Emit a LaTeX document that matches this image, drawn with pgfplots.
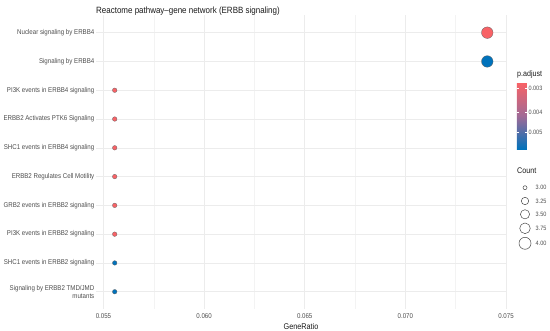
\documentclass[border=0pt]{standalone}
\usepackage{fontspec}
\setmainfont{Liberation Sans}[FakeStretch=0.88]
\usepackage{pgfplots}
\pgfplotsset{compat=1.18}
\usepackage{pgfplotstable}

\definecolor{gridc}{RGB}{236,236,236}
\definecolor{gridm}{RGB}{243,243,243}
\definecolor{txt}{RGB}{77,77,77}
\definecolor{ttl}{RGB}{26,26,26}

% x = GeneRatio, y = row (1 = bottom), count, p.adjust
\pgfplotstableread{
x y count p
0.05556 1 3 0.006113
0.05556 2 3 0.006113
0.05556 3 3 0.002821
0.05556 4 3 0.002821
0.05556 5 3 0.002821
0.05556 6 3 0.002821
0.05556 7 3 0.002821
0.05556 8 3 0.002821
0.07407 9 4 0.006113
0.07407 10 4 0.002821
}\erbbdata

\begin{document}
\begin{tikzpicture}
\useasboundingbox (0,0) rectangle (550bp,331bp);
\begin{axis}[
  at={(96bp,22bp)}, anchor=south west,
  scale only axis, width=410bp, height=293.6bp,
  xmin=0.05463, xmax=0.07500, ymin=0.4, ymax=10.6,
  scaled x ticks=false,
  axis line style={draw=none},
  major tick style={draw=none}, minor tick style={draw=none},
  xtick={0.055,0.06,0.065,0.07,0.075},
  xticklabels={0.055,0.060,0.065,0.070,0.075},
  minor xtick={0.0575,0.0625,0.0675,0.0725},
  ytick={1,2,3,4,5,6,7,8,9,10},
  yticklabels={{Signaling by ERBB2 TMD/JMD\\mutants},
    SHC1 events in ERBB2 signaling,
    PI3K events in ERBB2 signaling,
    GRB2 events in ERBB2 signaling,
    ERBB2 Regulates Cell Motility,
    SHC1 events in ERBB4 signaling,
    ERBB2 Activates PTK6 Signaling,
    PI3K events in ERBB4 signaling,
    Signaling by ERBB4,
    Nuclear signaling by ERBB4},
  grid=both,
  major grid style={gridc, line width=0.55bp},
  minor grid style={gridm, line width=0.4bp},
  ticklabel style={font=\fontsize{7}{7.7}\selectfont, text=txt},
  yticklabel style={align=right, inner sep=1.5bp},
  xticklabel style={inner sep=1bp, yshift=-3bp},
  xlabel={GeneRatio},
  xlabel style={font=\fontsize{8.3}{9}\selectfont, text=ttl, inner sep=0pt, yshift=-4bp},
  title={Reactome pathway–gene network (ERBB signaling)},
  title style={at={(0,1)}, anchor=south west, inner sep=0pt, yshift=-6.5bp,
    font=\fontsize{9.1}{10}\selectfont, text=ttl},
  colormap={pv}{rgb255(0cm)=(248,98,102); rgb255(1cm)=(160,106,150); rgb255(2cm)=(0,114,187)},
  point meta min=-5.8707, point meta max=-5.0974,
  colorbar,
  colorbar style={
    scale only axis, width=10bp, height=66.6bp,
    at={(parent axis.north east)}, anchor=north west,
    xshift=2.3bp, yshift=-67.3bp,
    y dir=reverse,
    ytick={-5.80914,-5.52146,-5.29832},
    yticklabels={0.003,0.004,0.005},
    yticklabel style={font=\fontsize{6.3}{7}\selectfont, text=txt, inner sep=1.5bp},
    ytick pos=both, yticklabel pos=right, tick align=inside,
    major tick style={draw=white, line width=0.6bp},
    major tick length=2bp,
    axis line style={draw=none},
    axis on top,
  },
]
\addplot[scatter, only marks, mark=*,
  point meta={ln(\thisrow{p})},
  scatter/use mapped color={draw=black!60, fill=mapped color},
  visualization depends on={2.3+(\thisrow{count}-3)*3.5 \as \psize},
  scatter/@pre marker code/.append style={/tikz/mark size=\psize},
  mark options={line width=0.3bp}]
  table[x=x, y=y] {\erbbdata};
\end{axis}
% legend titles
\node[anchor=base west, inner sep=0pt, font=\fontsize{8.1}{9}\selectfont, text=ttl] at (517bp,254.5bp) {p.adjust};
\node[anchor=base west, inner sep=0pt, font=\fontsize{8.2}{9}\selectfont, text=ttl] at (517bp,157bp) {Count};
% size legend keys
\foreach \yy/\rr/\lab in {143.3/2/3.00, 130/3.7/3.25, 116.7/4.6/3.50, 102.7/5.3/3.75, 87.7/6/4.00}{
  \draw[black!70, line width=0.5bp] (525bp,\yy bp) circle (\rr bp);
  \node[anchor=west, inner sep=0pt, font=\fontsize{6.3}{7}\selectfont, text=txt] at (535.5bp,\yy bp) {\lab};
}
\end{tikzpicture}
\end{document}
